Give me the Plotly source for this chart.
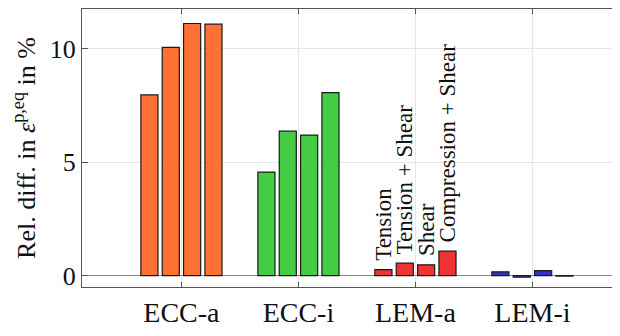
import plotly.graph_objects as go

categories = ["ECC-a", "ECC-i", "LEM-a", "LEM-i"]
load_cases = ["Tension", "Tension + Shear", "Shear", "Compression + Shear"]
# values[load_case][category]
tension = [7.97, 4.57, 0.27, 0.17]
tension_shear = [10.07, 6.37, 0.55, -0.07]
shear = [11.12, 6.2, 0.48, 0.22]
compression_shear = [11.09, 8.07, 1.08, -0.02]
series = [tension, tension_shear, shear, compression_shear]
category_colors = ["#FF7033", "#44CC44", "#EE3333", "#3333CC"]
labelled_category = "LEM-a"
y_ticks = [0, 5, 10]

FONT = "Liberation Serif, serif"

fig = go.Figure()
for name, vals in zip(load_cases, series):
    texts = ["\u00a0" + name if c == labelled_category else "" for c in categories]
    fig.add_trace(go.Bar(
        x=categories, y=vals, name=name,
        marker=dict(color=category_colors, line=dict(color="#1a1a1a", width=1.2)),
        text=texts, textposition="outside", textangle=-90,
        constraintext="none", cliponaxis=False,
        textfont=dict(family=FONT, size=23, color="#111"),
    ))

# The page body keeps its default 8px margin, so the figure is sized to fit
# inside the 620x336 window without scrollbars.
fig.update_layout(
    width=604, height=320,
    margin=dict(l=74, r=0, t=0, b=36),
    paper_bgcolor="white", plot_bgcolor="white",
    showlegend=False,
    font=dict(family=FONT, color="#111"),
    barmode="group", bargap=0.27, bargroupgap=0.2,
    xaxis=dict(
        range=[-0.85, 3.68], showgrid=True, gridcolor="#e6e6e6", gridwidth=1,
        showline=True, linecolor="#555", linewidth=1.2, mirror="ticks",
        ticks="inside", ticklen=5, tickcolor="#555",
        tickfont=dict(family=FONT, size=28, color="#111"), ticklabelstandoff=0,
    ),
    yaxis=dict(
        range=[-0.5, 11.76], tickvals=y_ticks, showgrid=True, gridcolor="#e6e6e6",
        zeroline=True, zerolinecolor="#888", zerolinewidth=1.2,
        showline=True, linecolor="#555", linewidth=1.2,
        ticks="inside", ticklen=6, tickcolor="#555",
        tickfont=dict(family=FONT, size=26, color="#111"),
        title=dict(text="Rel. diff. in <i>ε</i><sup>p,eq</sup> in %",
                   font=dict(family=FONT, size=26, color="#111"), standoff=10),
    ),
)

fig.write_html("out.html", config={"displayModeBar": False})
